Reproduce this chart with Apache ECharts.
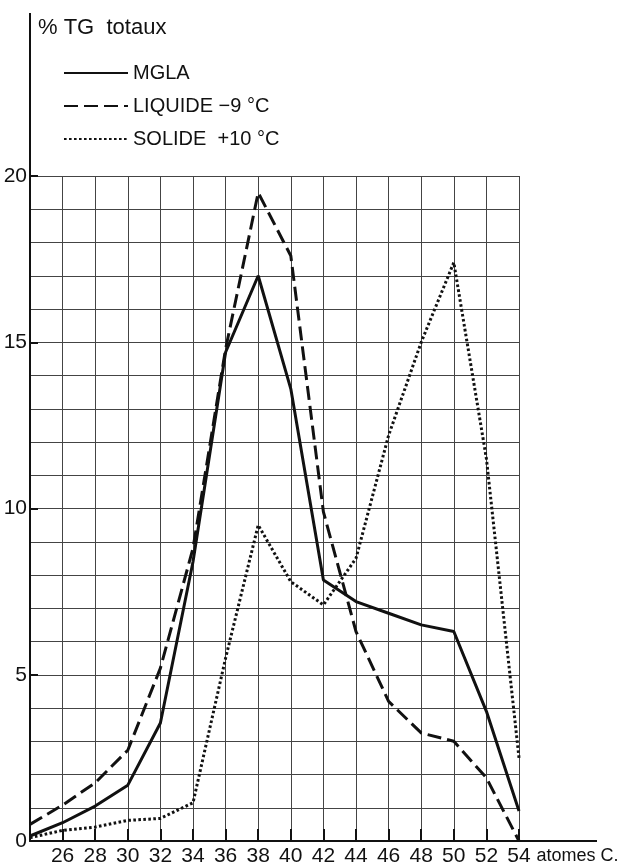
<!DOCTYPE html>
<html><head><meta charset="utf-8">
<script src="https://cdn.jsdelivr.net/npm/echarts@6/dist/echarts.min.js"></script>
<style>html,body{margin:0;padding:0;background:#fff}#c{width:623px;height:867px}</style>
</head><body><div id="c"></div>
<script>
// Data
const carbons = [24, 26, 28, 30, 32, 34, 36, 38, 40, 42, 44, 46, 48, 50, 52, 54];
const mgla    = [0.15, 0.55, 1.05, 1.68, 3.55, 8.4, 14.7, 17.0, 13.6, 7.85, 7.2, 6.85, 6.5, 6.3, 3.9, 0.9];
const liquide = [0.5, 1.08, 1.75, 2.73, 5.2, 8.8, 14.8, 19.5, 17.6, 9.9, 6.3, 4.2, 3.25, 3.0, 1.9, 0.0];
const solide  = [0.1, 0.32, 0.42, 0.62, 0.68, 1.15, 5.5, 9.5, 7.8, 7.1, 8.5, 12.2, 15.0, 17.4, 11.5, 2.5];
const xTickLabels = [26, 28, 30, 32, 34, 36, 38, 40, 42, 44, 46, 48, 50, 52, 54];
const yTickLabels = [0, 5, 10, 15, 20];
const seriesNames = ['MGLA', 'LIQUIDE \u22129 \u00b0C', 'SOLIDE  +10 \u00b0C'];
const yTitle = '% TG  totaux';
const xTitle = 'atomes C.';

const FONT = 'Liberation Sans';
const chart = echarts.init(document.getElementById('c'), null, {renderer: 'canvas'});

function pairs(vals) { return carbons.map((c, i) => [c, vals[i]]); }

const option = {
  backgroundColor: '#fff',
  animation: false,
  color: ['#111', '#111', '#111'],
  textStyle: {fontFamily: FONT, color: '#111'},
  grid: {left: 30, right: 104, top: 176, bottom: 25, containLabel: false},
  legend: {
    orient: 'vertical', left: 63, top: 63, padding: 0, itemWidth: 64, itemHeight: 14, itemGap: 13,
    selectedMode: false,
    itemStyle: {opacity: 0},
    textStyle: {fontFamily: FONT, fontSize: 20, color: '#111'},
    data: seriesNames
  },
  xAxis: {
    type: 'value', min: 24, max: 54, interval: 2,
    name: xTitle, nameLocation: 'end', nameGap: 17,
    nameTextStyle: {fontFamily: FONT, fontSize: 18, color: '#111', verticalAlign: 'top', align: 'left', padding: [6, 0, 0, 0]},
    axisLine: {show: true, lineStyle: {color: '#111', width: 2}},
    axisTick: {show: true, inside: true, length: 12, lineStyle: {color: '#111', width: 2}},
    axisLabel: {fontFamily: FONT, fontSize: 21, color: '#111', margin: 5,
      formatter: v => xTickLabels.includes(v) ? String(v) : ''},
    splitLine: {show: true, lineStyle: {color: '#444', width: 1}}
  },
  yAxis: {
    type: 'value', min: 0, max: 20, interval: 5,
    name: yTitle, nameLocation: 'end', nameGap: 148,
    nameTextStyle: {fontFamily: FONT, fontSize: 22, color: '#111', align: 'left', verticalAlign: 'middle', padding: [0, 0, 0, 8]},
    axisLine: {show: true, lineStyle: {color: '#111', width: 2}},
    axisTick: {show: true, inside: true, length: 8, lineStyle: {color: '#111', width: 2}},
    minorTick: {show: false, splitNumber: 5},
    minorSplitLine: {show: true, lineStyle: {color: '#444', width: 1}},
    axisLabel: {fontFamily: FONT, fontSize: 21, color: '#111', margin: 3,
      formatter: v => yTickLabels.includes(v) ? String(v) : ''},
    splitLine: {show: true, lineStyle: {color: '#444', width: 1}}
  },
  series: [
    {name: seriesNames[0], type: 'line', data: pairs(mgla), symbol: 'none',
      itemStyle: {color: '#111'},
      lineStyle: {color: '#111', width: 3, type: 'solid'}, z: 5},
    {name: seriesNames[1], type: 'line', data: pairs(liquide), symbol: 'none',
      itemStyle: {color: '#111'},
      lineStyle: {color: '#111', width: 3, type: [14, 6]}, z: 4},
    {name: seriesNames[2], type: 'line', data: pairs(solide), symbol: 'none',
      itemStyle: {color: '#111'},
      lineStyle: {color: '#111', width: 3, type: [2.6, 2.4]}, z: 3}
  ]
};
chart.setOption(option);

// extend the axis lines beyond the gridded area, as in the original drawing
const pEnd = chart.convertToPixel({gridIndex: 0}, [54, 0]);
const pTop = chart.convertToPixel({gridIndex: 0}, [24, 20]);
chart.setOption({
  graphic: [
    {type: 'line', shape: {x1: pEnd[0], y1: pEnd[1], x2: pEnd[0] + 78, y2: pEnd[1]},
      style: {stroke: '#111', lineWidth: 2}, z: 10},
    {type: 'line', shape: {x1: pTop[0], y1: pTop[1], x2: pTop[0], y2: pTop[1] - 163},
      style: {stroke: '#111', lineWidth: 2}, z: 10}
  ]
});
</script>
</body></html>
